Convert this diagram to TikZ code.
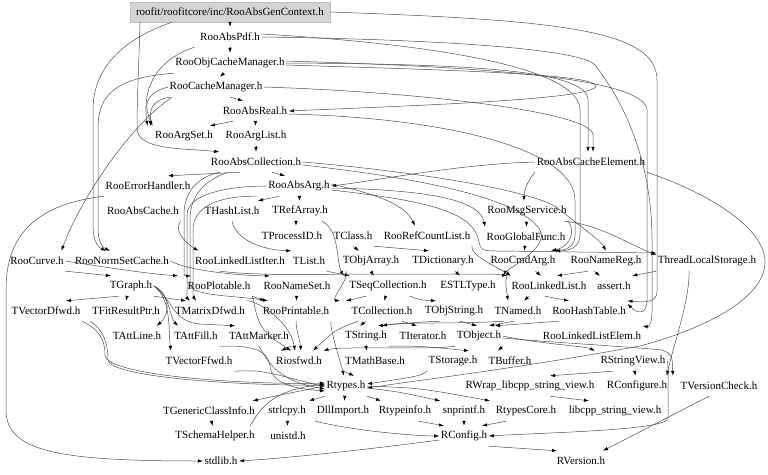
\documentclass[tikz,border=0pt]{standalone}
\usepackage{fontspec}
\setmainfont{Liberation Serif}
\usetikzlibrary{arrows.meta}
\begin{document}
\begin{tikzpicture}[x=1pt,y=-1pt,
  nd/.style={font=\fontsize{11}{12}\selectfont, inner xsep=1.5pt, inner ysep=0pt, minimum height=20pt},
  ed/.style={draw=black!70, line width=0.5pt, -{Latex[length=5pt,width=3.4pt,color=black]}}]
\useasboundingbox (0,0) rectangle (768,474);
% ---------------- nodes ----------------
\node[nd, fill=black!17, draw=black!25, minimum width=200pt] (gen) at (230,12) {roofit/roofitcore/inc/RooAbsGenContext.h};
\node[nd] (pdf) at (230,37) {RooAbsPdf.h};
\node[nd] (ocm) at (230,63) {RooObjCacheManager.h};
\node[nd] (cm) at (216,87) {RooCacheManager.h};
\node[nd] (real) at (255,111) {RooAbsReal.h};
\node[nd] (aset) at (184,136) {RooArgSet.h};
\node[nd] (alist) at (256,136) {RooArgList.h};
\node[nd] (coll) at (256,162) {RooAbsCollection.h};
\node[nd] (ace) at (591,162) {RooAbsCacheElement.h};
\node[nd] (err) at (148,186) {RooErrorHandler.h};
\node[nd] (arg) at (299,186) {RooAbsArg.h};
\node[nd] (acache) at (143,211) {RooAbsCache.h};
\node[nd] (hlist) at (232,211) {THashList.h};
\node[nd] (refarr) at (300,211) {TRefArray.h};
\node[nd] (msg) at (527,211) {RooMsgService.h};
\node[nd] (pid) at (292,236) {TProcessID.h};
\node[nd] (tclass) at (353,236) {TClass.h};
\node[nd] (rcl) at (427,236) {RooRefCountList.h};
\node[nd] (gf) at (526,237) {RooGlobalFunc.h};
\node[nd] (curve) at (37,261) {RooCurve.h};
\node[nd] (nsc) at (122,261) {RooNormSetCache.h};
\node[nd] (lli) at (240,261) {RooLinkedListIter.h};
\node[nd] (tlist) at (309,261) {TList.h};
\node[nd] (objarr) at (371,261) {TObjArray.h};
\node[nd] (dict) at (443,261) {TDictionary.h};
\node[nd] (cmd) at (523,261) {RooCmdArg.h};
\node[nd] (namereg) at (606,261) {RooNameReg.h};
\node[nd] (tls) at (707,261) {ThreadLocalStorage.h};
\node[nd] (graph) at (131,286) {TGraph.h};
\node[nd] (plot) at (219,286) {RooPlotable.h};
\node[nd] (nameset) at (297,286) {RooNameSet.h};
\node[nd] (seq) at (388,286) {TSeqCollection.h};
\node[nd] (estl) at (468,286) {ESTLType.h};
\node[nd] (ll) at (549,286) {RooLinkedList.h};
\node[nd] (assert) at (614,286) {assert.h};
\node[nd] (vdf) at (46,311) {TVectorDfwd.h};
\node[nd] (frp) at (126,311) {TFitResultPtr.h};
\node[nd] (mdf) at (210,311) {TMatrixDfwd.h};
\node[nd] (print) at (296,311) {RooPrintable.h};
\node[nd] (tcoll) at (382,311) {TCollection.h};
\node[nd] (objstr) at (454,311) {TObjString.h};
\node[nd] (named) at (518,311) {TNamed.h};
\node[nd] (hash) at (589,311) {RooHashTable.h};
\node[nd] (attline) at (137,336) {TAttLine.h};
\node[nd] (attfill) at (196,336) {TAttFill.h};
\node[nd] (attmark) at (259,336) {TAttMarker.h};
\node[nd] (tstring) at (366,336) {TString.h};
\node[nd] (iter) at (423,336) {TIterator.h};
\node[nd] (tobj) at (479,336) {TObject.h};
\node[nd] (lle) at (592,336) {RooLinkedListElem.h};
\node[nd] (vff) at (199,361) {TVectorFfwd.h};
\node[nd] (ios) at (299,361) {Riosfwd.h};
\node[nd] (mathb) at (375,361) {TMathBase.h};
\node[nd] (stor) at (453,361) {TStorage.h};
\node[nd] (buf) at (510,361) {TBuffer.h};
\node[nd] (sv) at (633,361) {RStringView.h};
\node[nd] (rtypes) at (346,386) {Rtypes.h};
\node[nd] (wrap) at (530,386) {RWrap\_libcpp\_string\_view.h};
\node[nd] (rconfigure) at (637,386) {RConfigure.h};
\node[nd] (vcheck) at (719,386) {TVersionCheck.h};
\node[nd] (gci) at (209,411) {TGenericClassInfo.h};
\node[nd] (strlcpy) at (287,411) {strlcpy.h};
\node[nd] (dll) at (343,411) {DllImport.h};
\node[nd] (rtinfo) at (405,411) {Rtypeinfo.h};
\node[nd] (snprintf) at (464,411) {snprintf.h};
\node[nd] (rcore) at (526,411) {RtypesCore.h};
\node[nd] (libsv) at (615,411) {libcpp\_string\_view.h};
\node[nd] (schema) at (215,436) {TSchemaHelper.h};
\node[nd] (unistd) at (288,436) {unistd.h};
\node[nd] (rconfig) at (464,436) {RConfig.h};
\node[nd] (stdlib) at (221,461) {stdlib.h};
\node[nd] (rversion) at (581,461) {RVersion.h};
% ---------------- edges: top chain ----------------
\draw[ed] (gen) -- (pdf);
\draw[ed] (pdf) -- (ocm);
\draw[ed] ([xshift=-6pt]ocm.south) -- ([xshift=4pt]cm.north);
\draw[ed] ([xshift=14pt]cm.south) -- ([xshift=-12pt]real.north);
\draw[ed] ([xshift=-22pt]real.south) -- ([xshift=26pt]aset.north);
\draw[ed] (real) -- (alist);
\draw[ed] (alist) -- (coll);
\draw[ed] ([xshift=-16pt]coll.south) -- ([xshift=20pt]err.north);
\draw[ed] ([xshift=16pt]coll.south) -- ([xshift=-14pt]arg.north);
\draw[ed] ([xshift=-20pt]arg.south) -- ([xshift=26pt]hlist.north);
\draw[ed] (arg) -- (refarr);
\draw[ed] (msg) -- (gf);
\draw[ed] (gf) -- (cmd);
% ---------------- left routes ----------------
\draw[ed] ([xshift=-58pt]gen.south) .. controls (120,40) and (93,70) .. (93,110) -- (93,225) .. controls (93,244) and (100,248) .. ([xshift=-16pt]nsc.north);
\draw[ed] ([xshift=-90pt]gen.south) .. controls (139,60) and (137,100) .. (137,128) .. controls (137,150) and (180,148) .. ([xshift=10pt]coll.north west);
\draw[ed] ([xshift=-4pt]pdf.south west) .. controls (150,62) and (143,95) .. ([xshift=-6pt]aset.north west);
\draw[ed] (ocm.south west) .. controls (108,78) and (98,100) .. (98,130) -- (98,228) .. controls (98,244) and (104,248) .. ([xshift=-12pt]nsc.north);
\draw[ed] ([xshift=2pt]cm.south west) .. controls (150,100) and (150,112) .. ([xshift=-3pt]aset.north west);
\draw[ed] (cm.west) .. controls (140,95) and (146,110) .. ([xshift=-1pt]aset.north west);
\draw[ed] ([xshift=4pt]cm.south west) .. controls (130,125) and (80,200) .. ([xshift=-4pt]curve.north east);
\draw[ed] (err.south west) .. controls (30,205) and (6,240) .. (6,290) -- (6,410) .. controls (6,452) and (60,461) .. (stdlib.west);
\draw[ed] (acache.south east) .. controls (172,232) and (190,246) .. ([xshift=5pt]lli.north west);
% middle bundle x~185
\draw[ed] (arg.west) .. controls (235,186) and (187,192) .. (187,215) -- (187,290) .. controls (187,298) .. ([xshift=-20pt]mdf.north);
\draw[ed] ([xshift=-36pt]coll.south) .. controls (200,176) and (184,190) .. (184,215) -- (184,270) .. controls (184,276) .. ([xshift=-28pt]plot.north);
\draw[ed] ([xshift=-28pt]coll.south) .. controls (205,180) and (190,195) .. (190,220) -- (190,285) .. controls (190,296) and (240,296) .. ([xshift=-28pt]print.north);
\draw[ed] ([xshift=-10pt]arg.south west) .. controls (215,196) and (193,208) .. (193,230) -- (193,288) .. controls (193,296) .. ([xshift=-14pt]mdf.north);
% ---------------- right routes ----------------
\draw[ed] (gen.east) .. controls (560,20) and (657,30) .. (657,80) -- (657,292) .. controls (657,304) and (640,302) .. (hash.north east);
\draw[ed] (pdf.east) .. controls (480,40) and (585,52) .. (595,65) .. controls (630,110) and (652,170) .. (652,240) -- (652,312) .. controls (652,325) and (648,327) .. (lle.north east);
\draw[ed] (ocm.east) .. controls (450,64) and (588,68) .. (588,100) -- ([xshift=-3pt]ace.north);
\draw[ed] ([yshift=-2pt]ocm.east) .. controls (450,70) and (596,74) .. (596,86) .. controls (596,100) and (400,106) .. (real.east);
\draw[ed] ([yshift=2pt]ocm.east) .. controls (450,66) and (645,75) .. (647,110) -- (647,300) .. controls (647,312) and (640,316) .. ([yshift=-3pt]hash.north east);
\draw[ed] (cm.east) .. controls (420,92) and (593,112) .. (593,135) -- ([xshift=2pt]ace.north);
\draw[ed] ([yshift=-3pt]real.east) .. controls (450,118) and (575,150) .. (575,200) -- (575,235) .. controls (575,247) and (566,250) .. ([xshift=-4pt]cmd.north east);
\draw[ed] ([yshift=3pt]pdf.east) .. controls (450,45) and (580,70) .. (580,110) -- (580,235) .. controls (580,248) and (568,251) .. ([xshift=-2pt]cmd.north east);
\draw[ed] (coll.east) .. controls (400,170) and (540,190) .. (560,210) .. controls (585,230) and (600,240) .. (namereg.north);
\draw[ed] ([yshift=-3pt]coll.east) .. controls (420,178) and (520,198) .. (540,230) .. controls (548,245) and (520,262) .. (505,272) -- ([xshift=-45pt]ll.north);
\draw[ed] (ace.west) .. controls (460,164) and (380,180) .. (arg.east);
\draw[ed] (ace.south west) .. controls (528,180) and (524,190) .. ([xshift=-3pt]msg.north);
\draw[ed] (ace.south east) .. controls (700,190) and (765,225) .. (765,262) .. controls (765,300) and (700,330) .. (640,346) .. controls (520,368) and (420,380) .. ([yshift=-2pt]rtypes.east);
\draw[ed] ([yshift=2pt]arg.east) .. controls (380,195) and (405,205) .. ([xshift=-12pt]rcl.north);
\draw[ed] ([yshift=-2pt]arg.east) .. controls (430,190) and (480,200) .. (gf.north west);
\draw[ed] ([yshift=-4pt]arg.east) .. controls (420,200) and (470,210) .. (478,238) .. controls (481,251) .. (500,251) -- ([yshift=8pt]tls.west);
\draw[ed] (msg.south east) .. controls (575,230) and (572,246) .. ([xshift=-6pt]cmd.north east);
\draw[ed] ([xshift=-4pt]msg.south east) .. controls (600,225) and (620,240) .. ([yshift=6pt]tls.west);
% ---------------- middle ----------------
\draw[ed] ([xshift=-4pt]refarr.south) -- ([xshift=4pt]pid.north);
\draw[ed] (hlist.south) .. controls (236,240) and (262,250) .. (tlist.north west);
\draw[ed] (tclass.south) -- ([xshift=-12pt]objarr.north);
\draw[ed] (tclass.south east) -- ([xshift=-14pt]dict.north);
\draw[ed] ([xshift=12pt]dict.south) -- ([xshift=-8pt]estl.north);
\draw[ed] ([xshift=22pt]refarr.south) .. controls (340,230) and (336,262) .. ([xshift=-4pt]seq.north west);
\draw[ed] (tlist.south east) -- ([xshift=2pt]seq.north west);
\draw[ed] (objarr.south) -- ([xshift=-14pt]seq.north);
\draw[ed] (seq) -- (tcoll);
\draw[ed] ([xshift=-16pt]tcoll.south) -- ([xshift=-6pt]tstring.north);
\draw[ed] ([xshift=20pt]tcoll.south) -- ([xshift=-6pt]iter.north);
\draw[ed] ([xshift=-14pt]objstr.south) .. controls (420,322) .. ([xshift=12pt]tstring.north);
\draw[ed] ([xshift=-14pt]named.south) .. controls (460,324) and (400,322) .. ([xshift=16pt]tstring.north);
\draw[ed] ([xshift=-4pt]named.south) -- ([xshift=10pt]tobj.north);
\draw[ed] ([xshift=6pt]objstr.south) -- ([xshift=-2pt]tobj.north);
\draw[ed] ([xshift=-30pt]hash.south) -- ([xshift=16pt]tobj.north);
\draw[ed] ([xshift=-20pt]ll.south) -- ([xshift=6pt]named.north);
\draw[ed] ([xshift=-4pt]ll.south) -- ([xshift=-20pt]hash.north);
\draw[ed] ([xshift=-14pt]cmd.south) .. controls (505,280) .. ([xshift=-10pt]named.north);
\draw[ed] (cmd) -- ([xshift=-8pt]ll.north);
\draw[ed] ([xshift=-18pt]namereg.south) -- ([xshift=8pt]ll.north);
\draw[ed] ([xshift=-12pt]namereg.south) -- ([xshift=-14pt]assert.north);
\draw[ed] (tls.south west) -- (assert.north east);
\draw[ed] (rcl.south east) .. controls (470,255) and (495,266) .. ([xshift=-38pt]ll.north);
\draw[ed] ([xshift=-20pt]lli.south) .. controls (260,276) and (300,274) .. (400,274) -- (480,274) .. controls (495,274) .. ([xshift=-42pt]ll.north);
\draw[ed] (nsc.east) .. controls (190,272) and (250,276) .. ([xshift=8pt]nameset.north west);
\draw[ed] (plot.south east) -- ([xshift=4pt]print.north west);
\draw[ed] (nameset) -- (print);
\draw[ed] ([xshift=-25pt]objarr.south) .. controls (350,278) and (330,300) .. ([xshift=-10pt]tcoll.north west);
\draw[ed] ([xshift=-22pt]seq.south) .. controls (350,300) .. ([xshift=-4pt]tcoll.north west);
\draw[ed] ([xshift=22pt]seq.south) .. controls (420,300) .. ([xshift=-18pt]objstr.north);
% ---------------- lower ----------------
\draw[ed] (curve.south east) -- ([xshift=-20pt]graph.north);
\draw[ed] (curve.east) .. controls (110,268) and (150,274) .. ([xshift=-8pt]plot.north west);
\draw[ed] ([xshift=-12pt]graph.south) -- ([xshift=20pt]vdf.north);
\draw[ed] ([xshift=-4pt]graph.south) -- (frp.north);
\draw[ed] (graph.south east) -- ([xshift=-24pt]mdf.north);
\draw[ed] (graph.east) .. controls (168,292) and (172,312) .. ([xshift=-6pt]attline.north east);
\draw[ed] (graph.east) .. controls (170,295) and (170,318) .. ([xshift=-18pt]attfill.north);
\draw[ed] (graph.east) .. controls (172,298) and (172,322) .. (200,324) -- ([xshift=-24pt]attmark.north);
\draw[ed] (graph.east) .. controls (172,300) and (168,330) .. ([xshift=-28pt]vff.north);
\draw[ed] (vdf.south east) .. controls (100,330) and (105,340) .. (105,355) .. controls (105,376) and (250,385) .. ([yshift=3pt]rtypes.west);
\draw[ed] (frp.south west) .. controls (104,330) and (108,345) .. (108,360) .. controls (110,378) and (250,386) .. ([yshift=1pt]rtypes.west);
\draw[ed] (vff.south east) .. controls (260,370) .. ([yshift=-1pt]rtypes.west);
\draw[ed] (attmark.south) .. controls (265,355) and (272,380) .. ([yshift=-3pt]rtypes.west);
\draw[ed] (attfill.south east) .. controls (252,345) and (268,350) .. (270,366) .. controls (272,386) and (300,389) .. ([yshift=-5pt]rtypes.west);
\draw[ed] (attmark.south east) -- ([xshift=-18pt]ios.north);
\draw[ed] (print.south) .. controls (296,330) and (300,340) .. ([xshift=2pt]ios.north);
\draw[ed] (plot.south east) .. controls (255,300) and (254,325) .. (272,338) .. controls (284,346) .. ([xshift=-8pt]ios.north);
\draw[ed] (mdf.north east) .. controls (255,300) and (290,320) .. ([xshift=-4pt]ios.north);
\draw[ed] ([xshift=-24pt]tcoll.south) .. controls (335,330) .. ([xshift=14pt]ios.north);
\draw[ed] (tobj.south west) .. controls (430,350) and (340,346) .. (ios.north east);
\draw[ed] (print.south east) .. controls (330,330) and (340,360) .. ([xshift=-2pt]rtypes.north);
\draw[ed] (tstring.south) -- ([xshift=-8pt]mathb.north);
\draw[ed] (mathb.south west) -- ([xshift=8pt]rtypes.north);
\draw[ed] (stor.south west) .. controls (420,376) .. ([yshift=2pt]rtypes.east);
\draw[ed] (tstring.south east) .. controls (420,346) .. ([xshift=-10pt]stor.north east);
\draw[ed] (tobj.south east) -- ([xshift=-12pt]buf.north);
\draw[ed] (tobj.east) .. controls (540,344) and (585,346) .. ([xshift=-4pt]sv.north west);
\draw[ed] ([yshift=-2pt]tobj.east) .. controls (560,343) and (620,346) .. (662,350) .. controls (672,354) .. ([xshift=-6pt]vcheck.north west);
\draw[ed] ([xshift=-18pt]tls.south) .. controls (690,300) and (672,350) .. ([xshift=-2pt]rconfigure.north east);
\draw[ed] ([xshift=-20pt]sv.south) -- ([xshift=20pt]wrap.north);
\draw[ed] (sv) -- (rconfigure);
\draw[ed] ([xshift=20pt]wrap.south) -- ([xshift=-26pt]libsv.north);
\draw[ed] (sv.east) .. controls (668,361) .. (668,376) -- (668,418) .. controls (668,430) and (560,432) .. (rconfig.east);
% Rtypes fan
\draw[ed] (rtypes.west) .. controls (295,392) .. ([xshift=-4pt]gci.north east);
\draw[ed] ([xshift=-6pt]schema.north east) .. controls (262,405) and (275,390) .. ([yshift=2pt]rtypes.west);
\draw[ed] (rtypes.south west) -- ([xshift=22pt]strlcpy.north);
\draw[ed] (rtypes) -- (dll);
\draw[ed] (rtypes.south east) -- ([xshift=-24pt]rtinfo.north);
\draw[ed] ([yshift=-2pt]rtypes.east) .. controls (400,392) .. ([xshift=-24pt]snprintf.north);
\draw[ed] (rtypes.east) .. controls (420,388) .. ([xshift=-36pt]rcore.north);
\draw[ed] (gci) -- (schema);
\draw[ed] (strlcpy) -- (unistd);
\draw[ed] (dll.south west) .. controls (360,432) and (420,436) .. (rconfig.west);
\draw[ed] ([yshift=-4pt]rconfig.west) .. controls (380,448) and (290,458) .. (stdlib.east);
\draw[ed] ([xshift=14pt]rtinfo.south) -- ([xshift=-20pt]rconfig.north);
\draw[ed] (snprintf) -- (rconfig);
\draw[ed] ([xshift=-20pt]rcore.south) -- ([xshift=18pt]rconfig.north);
\draw[ed] (rconfig.south east) -- ([xshift=-24pt]rversion.north);
\draw[ed] ([xshift=-10pt]vcheck.south) -- ([xshift=22pt]rversion.north);
\end{tikzpicture}
\end{document}
